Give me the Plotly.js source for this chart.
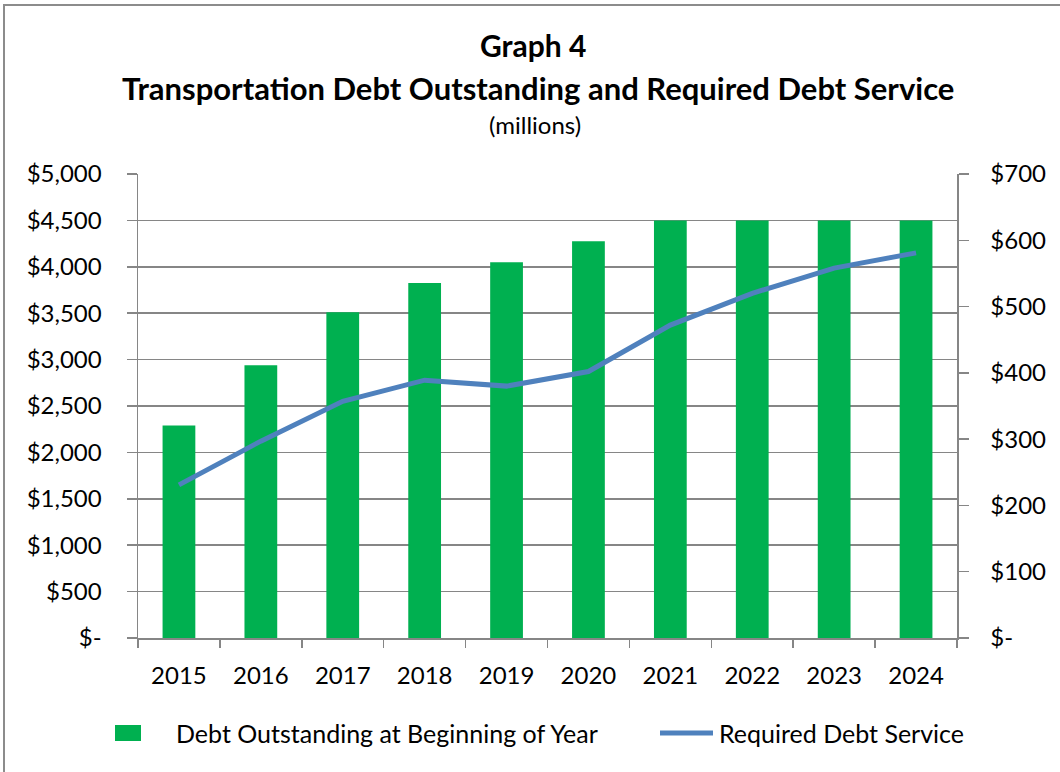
<!DOCTYPE html>
<html>
<head>
<meta charset="utf-8">
<script src="https://cdn.plot.ly/plotly-3.0.1.min.js"></script>
<style>
html,body{margin:0;padding:0;background:#fff;}
#wrap{position:relative;width:1060px;height:772px;overflow:hidden;}
#chart{position:absolute;left:0;top:0;width:1060px;height:772px;}
#frame{position:absolute;left:3px;top:4px;width:1070px;height:780px;border:2px solid #8c8c8c;box-sizing:border-box;pointer-events:none;}
</style>
</head>
<body>
<div id="wrap"><div id="chart"></div><div id="frame"></div></div>
<script>
const years = ["2015","2016","2017","2018","2019","2020","2021","2022","2023","2024"];
const debtOutstanding = [2290, 2940, 3510, 3825, 4050, 4275, 4500, 4500, 4500, 4500];
const debtService = [231, 297, 357, 389, 380, 402, 472, 520, 558, 581];
const leftTickVals = [0,500,1000,1500,2000,2500,3000,3500,4000,4500,5000];
const leftTickText = ["$-","$500","$1,000","$1,500","$2,000","$2,500","$3,000","$3,500","$4,000","$4,500","$5,000"];
const rightTickVals = [0,100,200,300,400,500,600,700];
const rightTickText = ["$-","$100","$200","$300","$400","$500","$600","$700"];
const seriesNames = ["Debt Outstanding at Beginning of Year", "Required Debt Service"];
const titleLines = ["Graph 4", "Transportation Debt Outstanding and Required Debt Service", "(millions)"];

const FONT = "Lato, 'Open Sans', sans-serif";
const BAR_COLOR = "#00B050", LINE_COLOR = "#4F81BD", AX = "#868686";
const data = [
  {type:"bar", x:years, y:debtOutstanding, name:seriesNames[0],
   marker:{color:BAR_COLOR}, hoverinfo:"skip", showlegend:false},
  {type:"scatter", mode:"lines", x:years, y:debtService, name:seriesNames[1], yaxis:"y2",
   line:{color:LINE_COLOR, width:5}, hoverinfo:"skip", showlegend:false}
];
// plot area: x 138..957 px, y 174..638 px
const px = v => (v - 138) / 819;
const py = v => (638 - v) / 464;
const layout = {
  width:1060, height:772,
  margin:{l:138, r:103, t:174, b:134},
  paper_bgcolor:"#fff", plot_bgcolor:"#fff",
  font:{family:FONT, size:24, color:"#000"},
  bargap:0.6,
  showlegend:false,
  xaxis:{type:"category", showline:true, linecolor:AX, linewidth:1.5,
    ticks:"outside", tickson:"boundaries", ticklen:8, tickcolor:AX, tickwidth:1.5,
    ticklabelstandoff:16, showgrid:false, tickfont:{size:24}, fixedrange:true},
  yaxis:{range:[0,5000], tickvals:leftTickVals, ticktext:leftTickText,
    showline:true, linecolor:AX, linewidth:1.5, showgrid:true, gridcolor:AX, gridwidth:1.5,
    ticks:"outside", ticklen:10, tickcolor:AX, tickwidth:1.5, ticklabelstandoff:20,
    zeroline:false, tickfont:{size:24}},
  yaxis2:{range:[0,700], tickvals:rightTickVals, ticktext:rightTickText, overlaying:"y", side:"right",
    showline:true, linecolor:AX, linewidth:1.5, showgrid:false,
    ticks:"outside", ticklen:10, tickcolor:AX, tickwidth:1.5, ticklabelstandoff:17,
    zeroline:false, tickfont:{size:24}},
  annotations:[
    {text:"<b>"+titleLines[0]+"</b>", xref:"paper", yref:"paper", x:px(533), y:py(45), xanchor:"center", yanchor:"middle", showarrow:false, font:{size:30}},
    {text:"<b>"+titleLines[1]+"</b>", xref:"paper", yref:"paper", x:px(538), y:py(88), xanchor:"center", yanchor:"middle", showarrow:false, font:{size:31}},
    {text:titleLines[2], xref:"paper", yref:"paper", x:px(535), y:py(125), xanchor:"center", yanchor:"middle", showarrow:false, font:{size:24}},
    {text:seriesNames[0], xref:"paper", yref:"paper", x:px(174), y:py(733), xanchor:"left", yanchor:"middle", showarrow:false, font:{size:25}},
    {text:seriesNames[1], xref:"paper", yref:"paper", x:px(717), y:py(733), xanchor:"left", yanchor:"middle", showarrow:false, font:{size:25}}
  ],
  shapes:[
    {type:"rect", xref:"paper", yref:"paper", x0:px(115), x1:px(141), y0:py(741), y1:py(725), fillcolor:BAR_COLOR, line:{width:0}},
    {type:"line", xref:"paper", yref:"paper", x0:px(660), x1:px(713), y0:py(733), y1:py(733), line:{color:LINE_COLOR, width:5}}
  ]
};
Plotly.newPlot("chart", data, layout, {staticPlot:true});
</script>
</body>
</html>
